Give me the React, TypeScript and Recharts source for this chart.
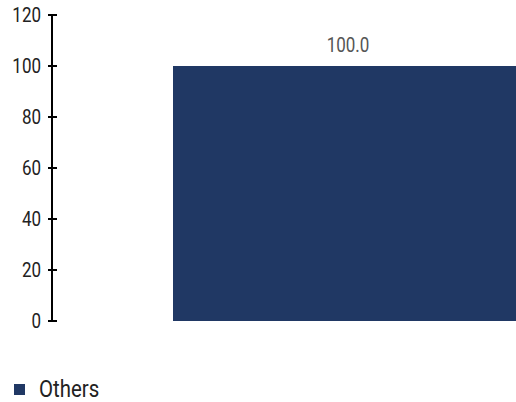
import React from "react";
import { Bar, BarChart, LabelList, Legend, XAxis, YAxis } from "recharts";

const categories = ["Others"];
const values = [100.0];
const yTicks = [0, 20, 40, 60, 80, 100, 120];

const data = categories.map((name, i) => ({ name, value: values[i] }));

const FONT = "Roboto, 'Noto Sans', sans-serif";
const NARROW = 0.85;
const BAR_COLOR = "#203864";

function YTick(props: any) {
  const { x, y, payload } = props;
  return (
    <g>
      <line x1={x + 7} x2={x + 16} y1={y} y2={y} stroke="#000" strokeWidth={2} />
      <text
        transform={`translate(${x},${y + 7}) scale(${NARROW},1)`}
        textAnchor="end"
        fontSize={20}
        fontFamily={FONT}
        fill="#222"
      >
        {payload.value}
      </text>
    </g>
  );
}

function BarValue(props: any) {
  const { x, y, width, value } = props;
  const cx = x + width / 2;
  return (
    <text
      transform={`translate(${cx},${y - 14}) scale(${NARROW},1)`}
      textAnchor="middle"
      fontSize={20}
      fontFamily={FONT}
      fill="#555"
    >
      {Number(value).toFixed(1)}
    </text>
  );
}

function LegendContent() {
  return (
    <div style={{ height: 30, display: "flex", alignItems: "center", fontFamily: FONT }}>
      <span
        style={{
          display: "inline-block",
          width: 11,
          height: 11,
          background: BAR_COLOR,
          marginLeft: 14,
          marginRight: 14,
        }}
      />
      <span
        style={{
          fontSize: 24,
          color: "#222",
          display: "inline-block",
          transform: `scaleX(${NARROW})`,
          transformOrigin: "left center",
        }}
      >
        {categories[0]}
      </span>
    </div>
  );
}

export default function App() {
  return (
    <div
      style={{
        position: "absolute",
        left: 0,
        top: 0,
        width: 516,
        height: 402,
        overflow: "hidden",
        background: "#fff",
      }}
    >
      <BarChart
        width={644}
        height={402}
        data={data}
        margin={{ top: 15, right: 0, left: 0, bottom: 51 }}
        barCategoryGap={121}
      >
        <XAxis dataKey="name" hide />
        <YAxis
          width={52}
          domain={[0, 120]}
          ticks={yTicks}
          interval={0}
          tickSize={4}
          tickMargin={7}
          tickLine={false}
          axisLine={{ stroke: "#000", strokeWidth: 2 }}
          tick={<YTick />}
        />
        <Legend
          content={<LegendContent />}
          wrapperStyle={{ top: 374, bottom: "auto", left: 0, width: 300 }}
        />
        <Bar dataKey="value" fill={BAR_COLOR} isAnimationActive={false}>
          <LabelList dataKey="value" content={<BarValue />} />
        </Bar>
      </BarChart>
    </div>
  );
}
